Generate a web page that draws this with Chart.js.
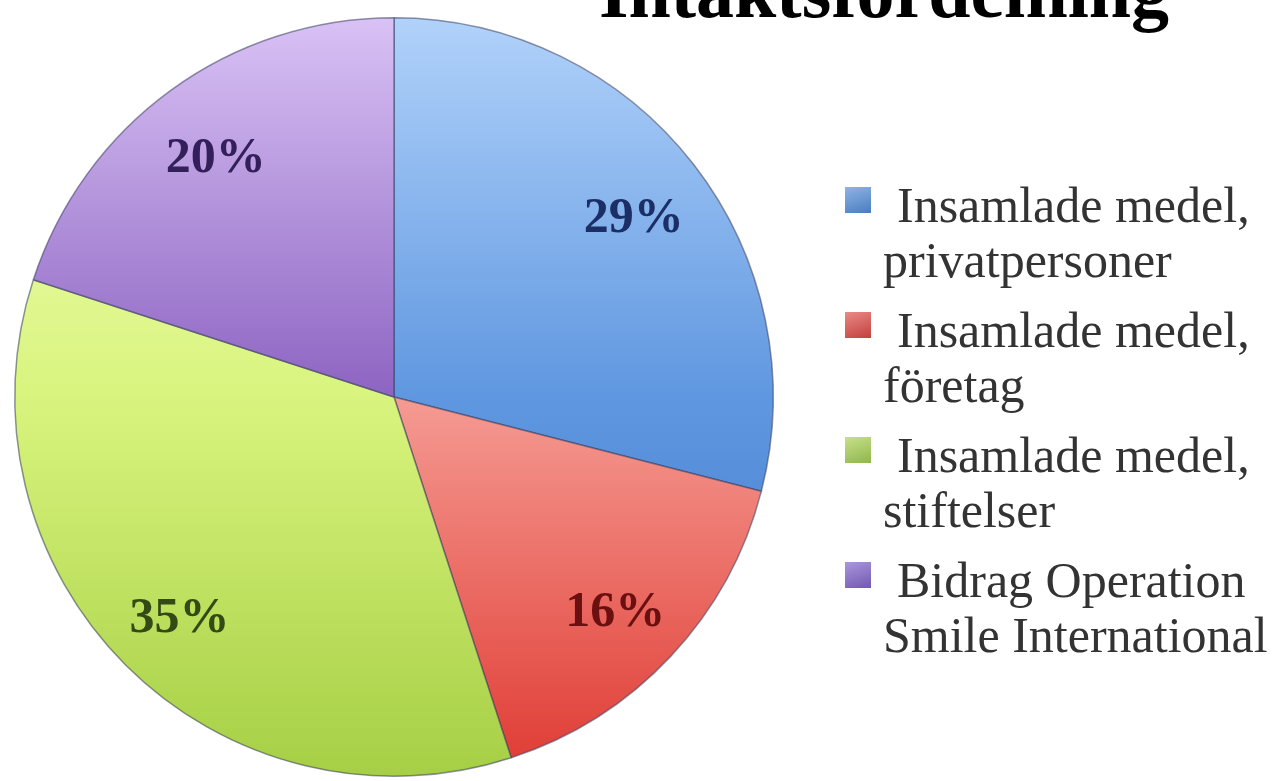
<!DOCTYPE html>
<html lang="sv">
<head>
  <meta charset="UTF-8">
  <title>Intäktsfördelning</title>
  <script src="https://cdn.jsdelivr.net/npm/chart.js"></script>
  <style>
    html, body { margin: 0; padding: 0; background: #fff; overflow: hidden; width: 1282px; height: 781px; }
    #wrap { position: absolute; left: 0; top: 0; width: 1282px; height: 800px; }
    #title { position: absolute; left: 884px; top: -47px; transform: translateX(-50%); white-space: nowrap;
             font: bold 76px/76px "Liberation Serif", serif; color: #000; }
    #legend { position: absolute; left: 845px; top: 178px; font: 50px/55px "Liberation Serif", serif; color: #333; }
    .item { position: relative; height: 110px; margin-bottom: 15px; }
    .box { position: absolute; left: 0; top: 9px; width: 26px; height: 26px; }
    .txt { margin-left: 38px; white-space: nowrap; }
    .txt span:first-child { padding-left: 14px; }
  </style>
</head>
<body>
  <div id="wrap"><canvas id="pie" width="1282" height="800"></canvas></div>
  <div id="title">Intäktsfördelning</div>
  <div id="legend"></div>

  <script>
    const categories = [
      ['Insamlade medel,', 'privatpersoner'],
      ['Insamlade medel,', 'företag'],
      ['Insamlade medel,', 'stiftelser'],
      ['Bidrag Operation', 'Smile International']
    ];
    const shares = [29, 16, 35, 20];

    // light / mid / dark stops, top to bottom of the pie
    const sliceShades = [
      ['#b1d2fa', '#5f97e0', '#3d72c6'],
      ['#ffd0cc', '#f59b93', '#df3a32'],
      ['#f4ffc0', '#d9f47e', '#a6cf45'],
      ['#d9c2f5', '#8d64c2', '#6a43a0']
    ];
    const labelColors = ['#1b2f66', '#6b1010', '#344a14', '#33205a'];
    const boxColors = [['#8fb4e6', '#4a7cc0'], ['#ea8a86', '#c2403c'], ['#c8e08a', '#8fb64a'], ['#ab97dc', '#7258b0']];

    function sliceFill(context) {
      const chart = context.chart;
      const area = chart.chartArea;
      const s = sliceShades[context.dataIndex];
      if (!area) return s[1];
      const g = chart.ctx.createLinearGradient(0, area.top, 0, area.bottom);
      g.addColorStop(0, s[0]);
      g.addColorStop(0.5, s[1]);
      g.addColorStop(1, s[2]);
      return g;
    }

    const percentLabels = {
      id: 'percentLabels',
      afterDatasetsDraw(chart) {
        const ctx = chart.ctx;
        const meta = chart.getDatasetMeta(0);
        ctx.save();
        ctx.font = 'bold 50px "Liberation Serif", serif';
        ctx.textAlign = 'center';
        ctx.textBaseline = 'middle';
        meta.data.forEach((arc, i) => {
          const p = arc.getProps(['x', 'y', 'startAngle', 'endAngle', 'outerRadius'], true);
          const mid = (p.startAngle + p.endAngle) / 2;
          const r = p.outerRadius * 0.8;
          ctx.fillStyle = labelColors[i];
          ctx.fillText(shares[i] + '%', p.x + Math.cos(mid) * r, p.y + Math.sin(mid) * r + 8);
        });
        ctx.restore();
      }
    };

    new Chart(document.getElementById('pie'), {
      type: 'pie',
      data: {
        labels: categories,
        datasets: [{
          data: shares,
          backgroundColor: sliceFill,
          borderColor: 'rgba(55,60,95,0.55)',
          borderWidth: 1.5
        }]
      },
      options: {
        responsive: false,
        animation: false,
        layout: { padding: { left: 14, top: 17, right: 508, bottom: 23 } },
        plugins: { legend: { display: false }, tooltip: { enabled: false } }
      },
      plugins: [percentLabels]
    });

    // legend in html, hanging indent like the original
    const legend = document.getElementById('legend');
    categories.forEach((lines, i) => {
      const item = document.createElement('div');
      item.className = 'item';
      const box = document.createElement('div');
      box.className = 'box';
      box.style.background = 'linear-gradient(160deg, ' + boxColors[i][0] + ', ' + boxColors[i][1] + ')';
      const txt = document.createElement('div');
      txt.className = 'txt';
      txt.innerHTML = '<span>' + lines[0] + '</span><br><span>' + lines[1] + '</span>';
      item.appendChild(box);
      item.appendChild(txt);
      legend.appendChild(item);
    });
  </script>
</body>
</html>
